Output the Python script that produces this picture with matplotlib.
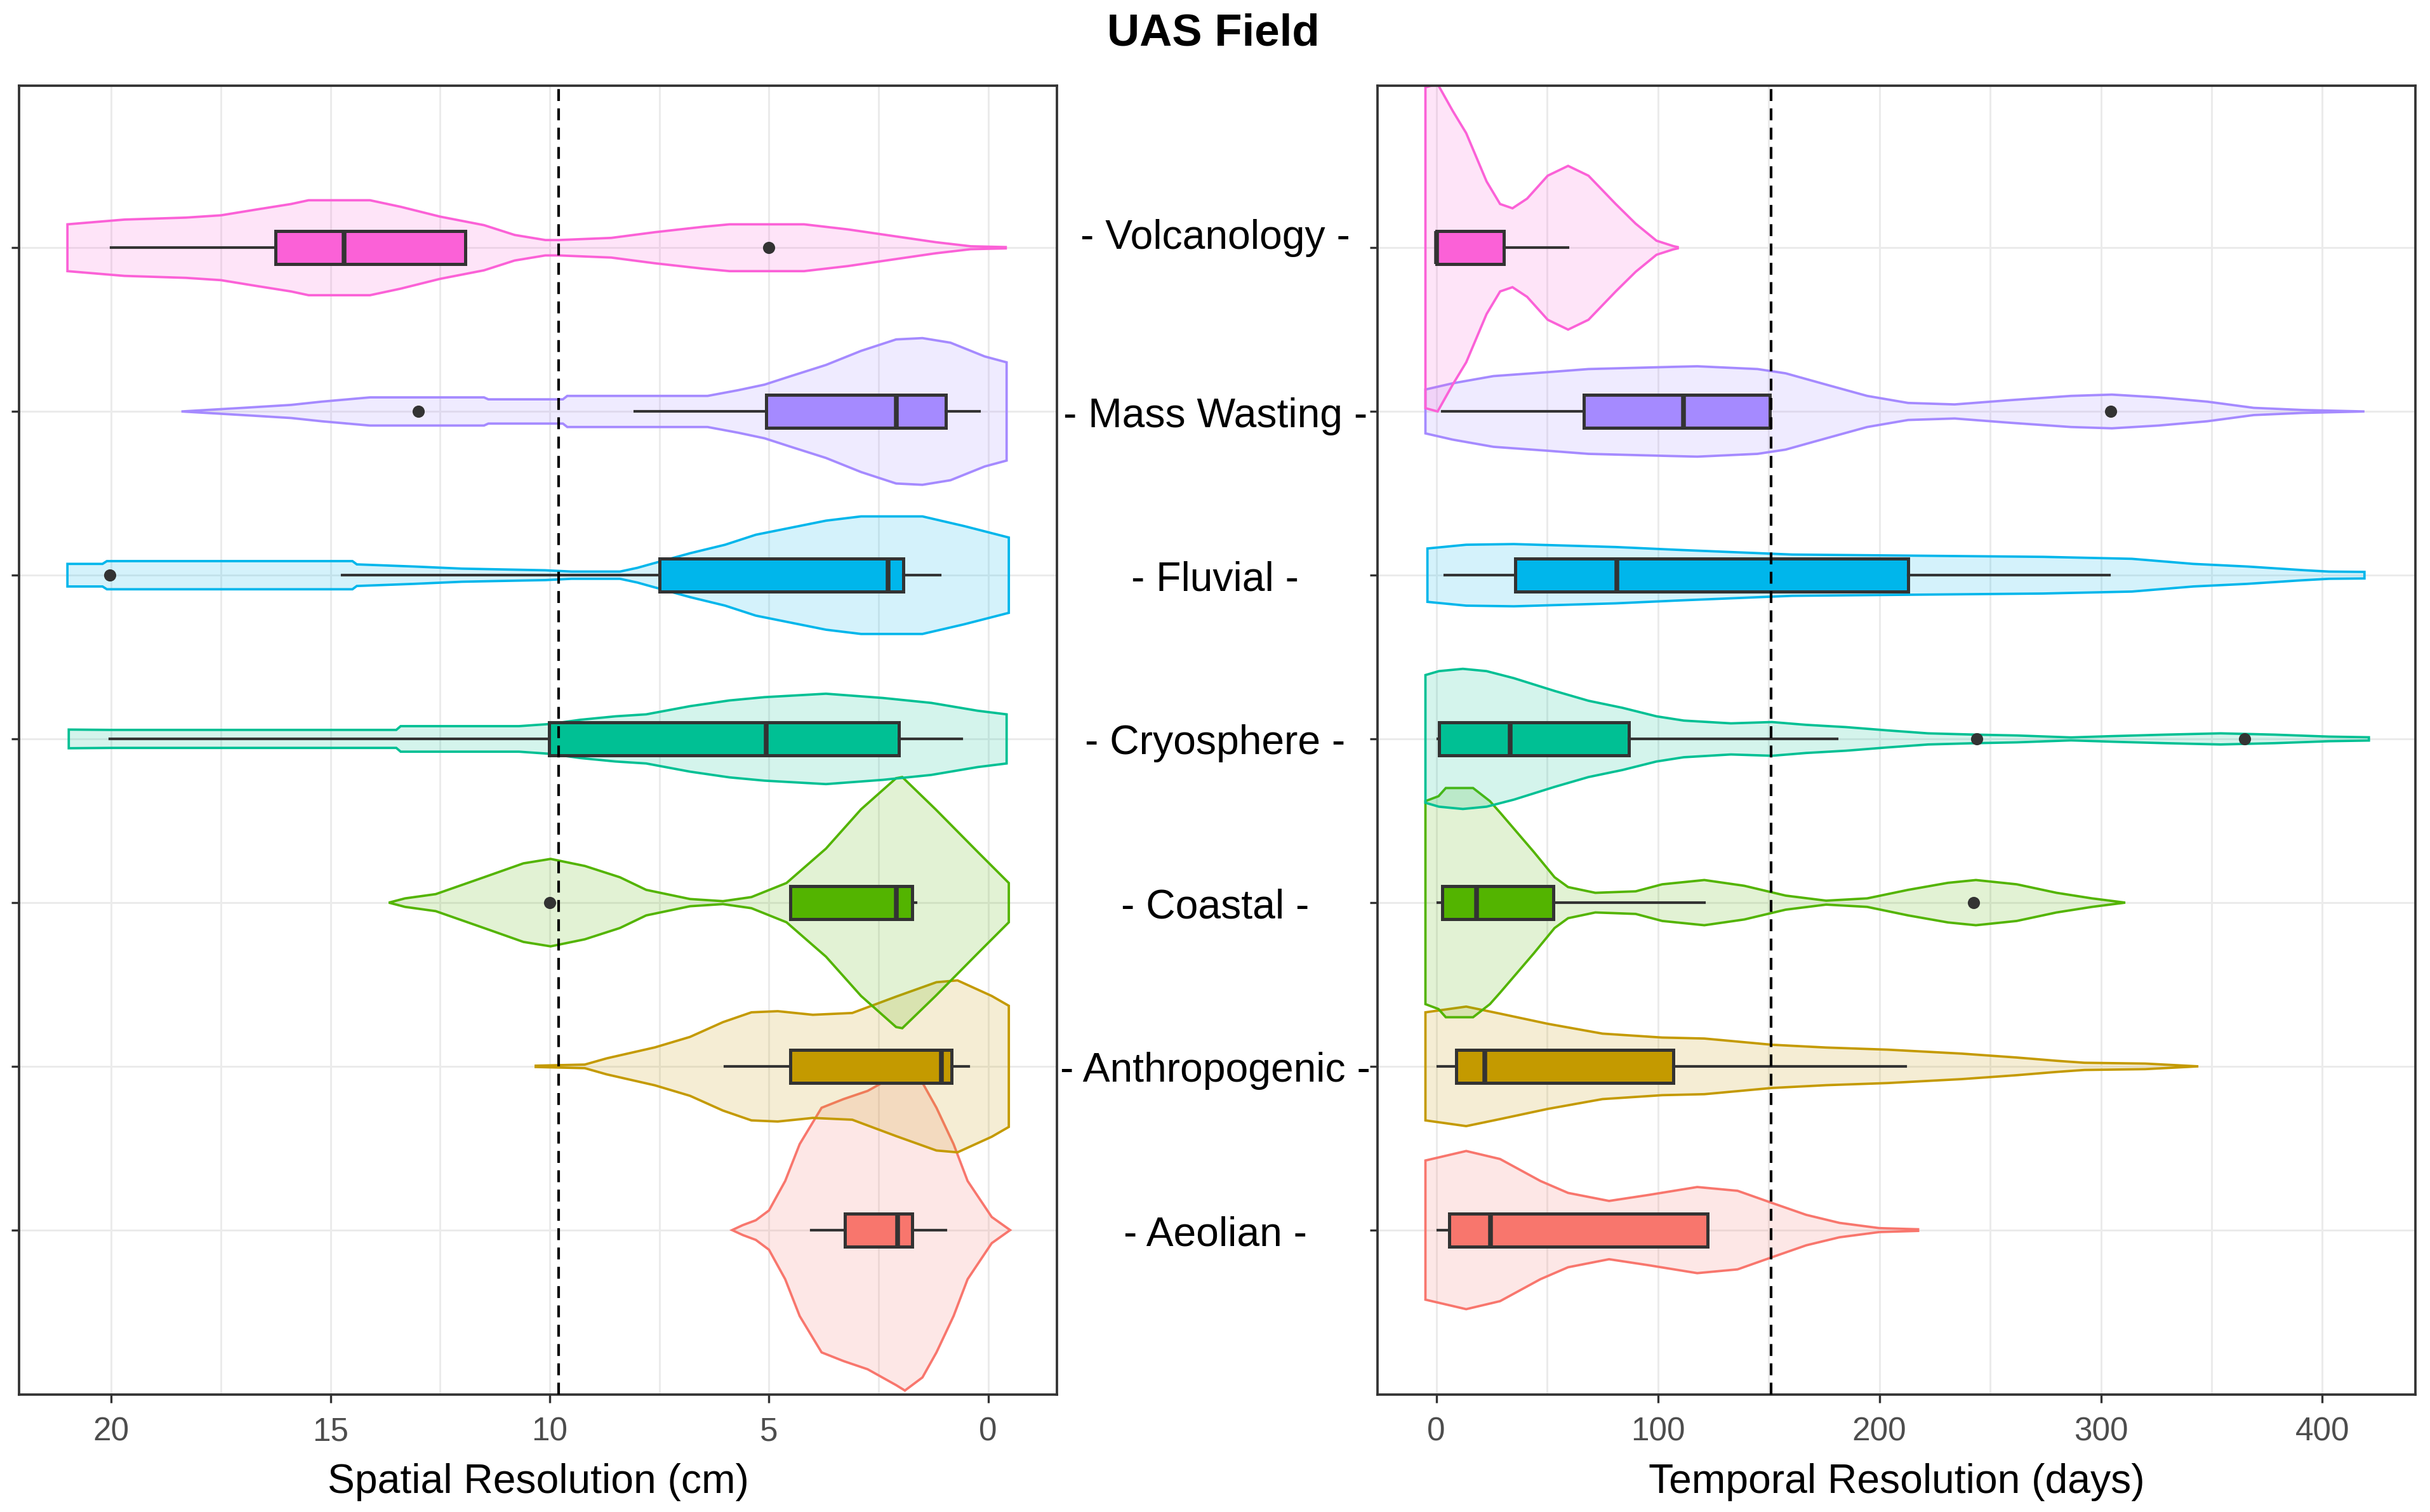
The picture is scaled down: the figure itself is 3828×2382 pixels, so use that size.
"""UAS field: spatial and temporal resolution by discipline, violin + box plots."""

import matplotlib

matplotlib.use("Agg")
import matplotlib.pyplot as plt
import matplotlib.transforms as mtransforms
import numpy as np
from matplotlib.colors import to_rgba

plt.rcParams["font.family"] = ["Liberation Sans", "DejaVu Sans"]

# categories, bottom to top
categories = ["Aeolian", "Anthropogenic", "Coastal", "Cryosphere",
              "Fluvial", "Mass Wasting", "Volcanology"]
colors = ["#F8766D", "#C49A00", "#53B400", "#00C094",
          "#00B6EB", "#A58AFF", "#FB61D7"]

# violin profiles: (value, half width in category units)
sp_aeolian = [(5.84, 0.0), (5.6, 0.03), (5.3, 0.06), (5.0, 0.12), (4.63, 0.30),
              (4.3, 0.525), (3.8, 0.747), (3.3, 0.80), (2.75, 0.85), (2.1, 0.947),
              (1.9, 0.98), (1.5, 0.90), (1.18, 0.747), (0.79, 0.525), (0.47, 0.30),
              (-0.08, 0.08), (-0.5, 0.0)]
sp_anthropogenic = [(10.32, 0.004), (9.2, 0.011), (8.7, 0.049), (7.6, 0.116), (6.8, 0.18),
                    (6.05, 0.27), (5.4, 0.33), (4.8, 0.337), (4.0, 0.315), (3.1, 0.326),
                    (2.1, 0.426), (1.18, 0.514), (0.7, 0.525), (-0.08, 0.43), (-0.47, 0.37)]
sp_coastal = [(13.67, 0.0), (13.3, 0.026), (12.6, 0.052), (11.5, 0.155), (10.6, 0.24),
              (9.98, 0.267), (9.2, 0.224), (8.4, 0.155), (7.8, 0.078), (6.8, 0.022),
              (6.05, 0.009), (5.4, 0.034), (4.6, 0.12), (3.7, 0.33), (2.9, 0.57),
              (2.1, 0.76), (1.96, 0.767), (1.2, 0.57), (0.24, 0.31), (-0.47, 0.12)]
sp_cryosphere = [(20.97, 0.057), (20.0, 0.055), (13.5, 0.055), (13.4, 0.078), (10.7, 0.078),
                 (10.0, 0.091), (9.3, 0.117), (8.5, 0.138), (7.8, 0.15), (6.8, 0.2),
                 (5.9, 0.235), (5.1, 0.255), (3.7, 0.276), (2.4, 0.25), (1.3, 0.22),
                 (0.24, 0.172), (-0.42, 0.15)]
sp_fluvial = [(21.0, 0.069), (20.2, 0.069), (20.1, 0.086), (14.5, 0.086), (14.4, 0.066),
              (13.1, 0.053), (12.0, 0.04), (10.1, 0.03), (9.5, 0.022), (8.4, 0.022),
              (8.0, 0.045), (7.8, 0.06), (6.8, 0.134), (6.0, 0.186), (5.3, 0.247),
              (4.5, 0.29), (3.7, 0.333), (2.9, 0.359), (1.5, 0.359), (0.55, 0.30),
              (-0.47, 0.23)]
sp_mass_wasting = [(18.4, 0.0), (17.0, 0.022), (15.9, 0.04), (15.2, 0.06), (14.1, 0.086),
                   (11.5, 0.086), (11.4, 0.074), (9.7, 0.074), (9.6, 0.095), (6.4, 0.095),
                   (5.7, 0.13), (5.1, 0.164), (4.5, 0.216), (3.7, 0.284), (2.9, 0.37),
                   (2.1, 0.44), (1.5, 0.448), (0.86, 0.42), (0.08, 0.336), (-0.42, 0.30)]
sp_volcanology = [(21.0, 0.143), (19.7, 0.172), (18.3, 0.184), (17.5, 0.198), (16.7, 0.233),
                  (15.9, 0.267), (15.5, 0.29), (14.1, 0.29), (13.4, 0.25), (12.5, 0.19),
                  (11.5, 0.138), (10.8, 0.078), (10.1, 0.047), (9.8, 0.047), (8.6, 0.060),
                  (7.6, 0.095), (6.5, 0.128), (5.9, 0.143), (4.2, 0.143), (3.2, 0.112),
                  (2.1, 0.069), (1.2, 0.034), (0.4, 0.009), (-0.4, 0.004)]

tp_aeolian = [(-4.9, 0.425), (13.5, 0.483), (28.8, 0.434), (47, 0.3), (59.5, 0.227),
              (78, 0.178), (96, 0.215), (117.8, 0.263), (136, 0.24), (151.5, 0.166),
              (167, 0.093), (182, 0.044), (200, 0.012), (217.5, 0.005)]
tp_anthropogenic = [(-4.9, 0.33), (13.5, 0.365), (28.8, 0.322), (50.3, 0.26), (75, 0.2),
                    (102, 0.176), (121, 0.17), (151.5, 0.132), (176, 0.115), (203.7, 0.102),
                    (237, 0.078), (262, 0.054), (280, 0.034), (292.6, 0.022), (320, 0.017),
                    (344, 0.0)]
tp_coastal = [(-4.9, 0.62), (1.0, 0.65), (4.3, 0.70), (16.6, 0.70), (24.2, 0.62),
              (28.8, 0.55), (44, 0.31), (53.4, 0.155), (59.5, 0.095), (71.8, 0.06),
              (90, 0.069), (102, 0.112), (121, 0.138), (139, 0.103), (157.7, 0.043),
              (176, 0.012), (194.5, 0.026), (213, 0.078), (231, 0.121), (243.6, 0.138),
              (262, 0.112), (280, 0.06), (296, 0.026), (311, 0.0)]
tp_cryosphere = [(-4.9, 0.39), (1.2, 0.414), (12, 0.428), (22.7, 0.414), (35, 0.371),
                 (53.4, 0.293), (68.7, 0.233), (84, 0.19), (99.4, 0.138), (111.7, 0.112),
                 (133, 0.095), (151.5, 0.103), (166.9, 0.086), (185, 0.072), (203.7, 0.052),
                 (222, 0.034), (243.6, 0.026), (262, 0.021), (286.5, 0.009), (305, 0.017),
                 (329, 0.026), (354, 0.034), (378.5, 0.026), (403, 0.014), (421, 0.01)]
tp_fluvial = [(-4.0, 0.163), (13.5, 0.186), (35, 0.19), (81, 0.172), (108.6, 0.155),
              (130, 0.143), (160.7, 0.126), (274, 0.112), (314, 0.1), (341.7, 0.069),
              (366, 0.053), (391, 0.031), (403, 0.022), (419, 0.02)]
tp_mass_wasting = [(-4.9, 0.134), (7.4, 0.172), (25.8, 0.216), (50.3, 0.24), (68.7, 0.259),
                   (105.5, 0.272), (117.8, 0.276), (145, 0.259), (157.7, 0.233), (176, 0.164),
                   (194.5, 0.095), (213, 0.052), (234, 0.043), (259, 0.069), (286.5, 0.095),
                   (305, 0.103), (326, 0.086), (348, 0.06), (369, 0.022), (391, 0.009),
                   (419, 0.0)]
tp_volcanology = [(-4.9, 0.98), (0.6, 1.0), (7.4, 0.836), (13.5, 0.70), (22.7, 0.405),
                  (28.8, 0.267), (34.4, 0.241), (41, 0.30), (50.3, 0.44), (59.5, 0.5),
                  (68.7, 0.44), (81, 0.267), (90, 0.147), (99.4, 0.043), (107, 0.01),
                  (109, 0.004)]

spatial_profiles = [sp_aeolian, sp_anthropogenic, sp_coastal, sp_cryosphere,
                    sp_fluvial, sp_mass_wasting, sp_volcanology]
temporal_profiles = [tp_aeolian, tp_anthropogenic, tp_coastal, tp_cryosphere,
                     tp_fluvial, tp_mass_wasting, tp_volcanology]

# box plot statistics, same category order
sp_whislo = [0.97, 0.44, 1.65, 0.6, 1.1, 0.2, 11.92]
sp_q1 = [1.73, 0.83, 1.73, 2.04, 1.93, 0.97, 11.92]
sp_med = [2.07, 1.07, 2.09, 5.07, 2.28, 2.09, 14.69]
sp_q3 = [3.27, 4.52, 4.52, 10.02, 7.49, 5.06, 16.26]
sp_whishi = [4.04, 6.0, 4.52, 20.03, 14.74, 8.06, 20.0]
sp_outliers = [[], [], [10.0], [], [20.03], [13.0], [5.0]]

tp_whislo = [0.6, 0.6, 0.6, 0.6, 3.7, 2.8, 0.0]
tp_q1 = [5.8, 8.9, 2.8, 1.2, 35.6, 66.6, 0.0]
tp_med = [24.5, 21.8, 18.1, 33.4, 81.6, 111.7, 0.0]
tp_q3 = [122.4, 107.0, 52.8, 87.0, 213.0, 150.6, 30.4]
tp_whishi = [122.4, 212.0, 121.0, 181.0, 304.0, 150.6, 59.5]
tp_outliers = [[], [], [242.6], [244.0, 365.0], [], [304.3], []]

reference_cm = 9.8
reference_days = 151.0

DARK = "#333333"


def draw_panel(ax, profiles, whislo, q1, med, q3, whishi, outliers, ref):
    positions = np.arange(1, len(categories) + 1)
    for pos, prof, col in zip(positions, profiles, colors):
        vals = np.array([p[0] for p in prof])
        half = np.array([p[1] for p in prof])
        xs = np.concatenate([vals, vals[::-1]])
        ys = np.concatenate([pos + half, (pos - half)[::-1]])
        ax.fill(xs, ys, facecolor=to_rgba(col, 0.17), edgecolor=col,
                linewidth=0.9, zorder=2)

    stats = []
    for i in range(len(categories)):
        stats.append({"whislo": whislo[i], "q1": q1[i], "med": med[i],
                      "q3": q3[i], "whishi": whishi[i], "fliers": outliers[i]})
    bp = ax.bxp(stats, positions=positions, widths=0.2, orientation="horizontal",
                patch_artist=True, showcaps=False, manage_ticks=False,
                boxprops={"edgecolor": DARK, "linewidth": 1.2},
                whiskerprops={"color": DARK, "linewidth": 1.0},
                medianprops={"color": DARK, "linewidth": 1.8},
                flierprops={"marker": "o", "markerfacecolor": DARK,
                            "markeredgecolor": DARK, "markersize": 3.6},
                zorder=3)
    for box, col in zip(bp["boxes"], colors):
        box.set_facecolor(col)

    ax.axvline(ref, color="black", linestyle=(0, (4.5, 2.8)), linewidth=1.0, zorder=4)
    ax.set_ylim(-0.005, 7.99)
    ax.set_yticks(positions)
    ax.grid(True, which="both", color="#EBEBEB", linewidth=0.7, zorder=0)
    ax.set_axisbelow(True)
    for sp in ax.spines.values():
        sp.set_color(DARK)
        sp.set_linewidth(0.9)
    ax.tick_params(which="major", colors=DARK, labelcolor="#4D4D4D",
                   length=3, width=0.8, labelsize=12.3, pad=5.0)
    ax.tick_params(which="minor", length=0)


fig = plt.figure(figsize=(12.76, 7.943), dpi=300)
ax1 = fig.add_axes([0.0079, 0.0776, 0.4271, 0.8654])
ax2 = fig.add_axes([0.567, 0.0776, 0.427, 0.8654])

draw_panel(ax1, spatial_profiles, sp_whislo, sp_q1, sp_med, sp_q3, sp_whishi,
           sp_outliers, reference_cm)
ax1.set_xlim(22.1, -1.57)
ax1.set_xticks([20, 15, 10, 5, 0])
ax1.set_xticks([17.5, 12.5, 7.5, 2.5], minor=True)
ax1.set_yticklabels([])
ax1.set_xlabel("Spatial Resolution (cm)", fontsize=15.4, labelpad=6)

draw_panel(ax2, temporal_profiles, tp_whislo, tp_q1, tp_med, tp_q3, tp_whishi,
           tp_outliers, reference_days)
ax2.set_xlim(-26.4, 442)
ax2.set_xticks([0, 100, 200, 300, 400])
ax2.set_xticks([50, 150, 250, 350], minor=True)
labels = ax2.set_yticklabels([f"- {c} -" for c in categories], fontsize=15.4,
                             color="black", ha="center")
ax2.tick_params(axis="y", pad=58.5)
ax2.set_xlabel("Temporal Resolution (days)", fontsize=15.4, labelpad=6)
# the top label sits a little above its row in the original
labels[-1].set_transform(labels[-1].get_transform()
                         + mtransforms.ScaledTranslation(0, 5.5 / 72, fig.dpi_scale_trans))

fig.text(0.4994, 0.9775, "UAS Field", ha="center", va="center",
         fontsize=17, fontweight="bold")

fig.savefig("out.png", dpi=300)
